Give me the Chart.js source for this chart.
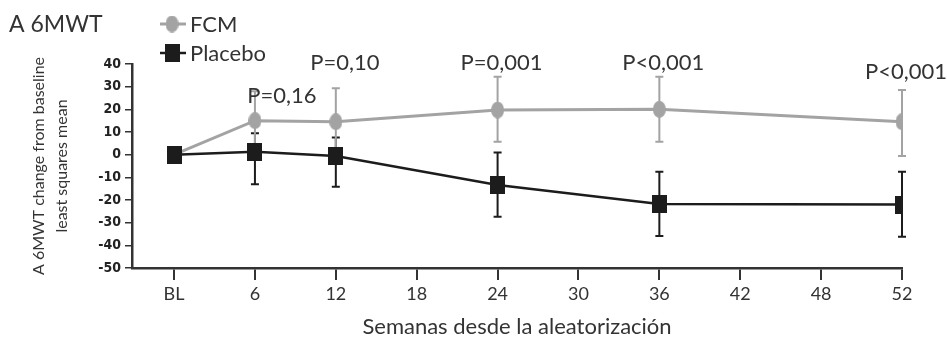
<!DOCTYPE html>
<html>
<head>
<meta charset="utf-8">
<script src="https://cdn.jsdelivr.net/npm/chart.js@4.4.0/dist/chart.umd.min.js"></script>
<style>
  html, body { margin: 0; padding: 0; background: #fff; }
</style>
</head>
<body>
<canvas id="myChart" width="947" height="339"></canvas>
<script>
// x axis categories (weeks) and the weeks where data was measured
const weeks = ['BL', '6', '12', '18', '24', '30', '36', '42', '48', '52'];
const measuredWeeks = ['BL', '6', '12', '24', '36', '52'];

// FCM series: mean and error bar ends
const fcmMean = [0, 15, 14.5, 19.7, 20, 14.5];
const fcmLow = [0, 1, -0.5, 5.7, 5.7, -0.6];
const fcmHigh = [0, 28, 29.3, 34.4, 34.4, 28.5];

// Placebo series
const placeboMean = [0, 1.3, -0.6, -13.4, -21.8, -22];
const placeboLow = [0, -13, -14.1, -27.4, -35.9, -36.2];
const placeboHigh = [0, 9.5, 7.6, 1, -7.5, -7.5];

// p values shown above the weeks
const pValues = ['P=0,16', 'P=0,10', 'P=0,001', 'P<0,001', 'P<0,001'];
const pValueWeeks = ['6', '12', '24', '36', '52'];

const GREY = '#a3a3a3';
const BLACK = '#1c1c1c';
const TXT = '#333';
const FONT = 'Lato, "Open Sans", sans-serif';
const NARROW = '"Liberation Sans Narrow", "DejaVu Sans Condensed", "Arial Narrow", sans-serif';

function makeMarker(w, h, color, shape) {
  const c = document.createElement('canvas');
  c.width = w; c.height = h;
  const g = c.getContext('2d');
  g.fillStyle = color;
  if (shape === 'ellipse') {
    g.beginPath();
    g.ellipse(w / 2, h / 2, w / 2, h / 2, 0, 0, Math.PI * 2);
    g.fill();
  } else {
    g.fillRect(0, 0, w, h);
  }
  return c;
}
const circleMarker = makeMarker(13, 17, GREY, 'ellipse');
const squareMarker = makeMarker(15, 18, BLACK, 'rect');

const toPoints = (vals) => measuredWeeks.map((w, i) => ({x: weeks.indexOf(w), y: vals[i]}));

// error bars under the markers
const errorBars = {
  id: 'errorBars',
  beforeDatasetsDraw(chart) {
    const {ctx, scales: {x, y}} = chart;
    chart.data.datasets.forEach((ds) => {
      ctx.save();
      ctx.strokeStyle = ds.borderColor;
      ctx.lineWidth = 2;
      measuredWeeks.forEach((w, i) => {
        const lo = ds.errLow[i], hi = ds.errHigh[i];
        if (lo === hi) return;
        const px = x.getPixelForValue(weeks.indexOf(w));
        const y1 = y.getPixelForValue(lo), y2 = y.getPixelForValue(hi);
        ctx.beginPath();
        ctx.moveTo(px, y1); ctx.lineTo(px, y2);
        ctx.moveTo(px - 4, y1); ctx.lineTo(px + 4, y1);
        ctx.moveTo(px - 4, y2); ctx.lineTo(px + 4, y2);
        ctx.stroke();
      });
      ctx.restore();
    });
  }
};

// title, legend and p values
const extras = {
  id: 'extras',
  afterDraw(chart, args, opts) {
    const {ctx, scales: {x, y}} = chart;
    ctx.save();
    ctx.fillStyle = TXT;
    ctx.textBaseline = 'alphabetic';
    ctx.textAlign = 'left';
    ctx.font = '23px ' + FONT;
    ctx.fillText('A 6MWT', 9, 32);

    // legend (FCM first)
    const items = [chart.data.datasets[1], chart.data.datasets[0]];
    items.forEach((ds, i) => {
      const cy = 24 + i * 29;
      ctx.strokeStyle = ds.borderColor;
      ctx.lineWidth = ds.borderWidth;
      ctx.beginPath();
      ctx.moveTo(160, cy); ctx.lineTo(186, cy);
      ctx.stroke();
      const m = ds.pointStyle;
      ctx.drawImage(m, 172 - m.width / 2, cy - m.height / 2);
      ctx.font = '22px ' + FONT;
      ctx.fillStyle = TXT;
      ctx.fillText(ds.label, 190, cy + 8);
    });

    // p values
    ctx.font = '22px ' + FONT;
    ctx.textAlign = 'center';
    ctx.textBaseline = 'middle';
    pValues.forEach((t, i) => {
      const a = opts.anchors[i];
      const px = x.getPixelForValue(weeks.indexOf(pValueWeeks[i])) + a.dx;
      ctx.fillText(t, px, y.getPixelForValue(a.y));
    });
    ctx.restore();
  }
};

new Chart(document.getElementById('myChart'), {
  type: 'line',
  data: {
    datasets: [
      {
        label: 'Placebo',
        data: toPoints(placeboMean),
        errLow: placeboLow,
        errHigh: placeboHigh,
        borderColor: BLACK,
        borderWidth: 2.5,
        pointStyle: squareMarker,
        order: 0
      },
      {
        label: 'FCM',
        data: toPoints(fcmMean),
        errLow: fcmLow,
        errHigh: fcmHigh,
        borderColor: GREY,
        borderWidth: 3,
        pointStyle: circleMarker,
        order: 1
      }
    ]
  },
  options: {
    responsive: false,
    animation: false,
    devicePixelRatio: 1,
    layout: { padding: { top: 64, right: 45, left: 0, bottom: 0 } },
    plugins: {
      legend: { display: false },
      tooltip: { enabled: false },
      extras: {
        anchors: [
          { dx: 27, y: 26 },
          { dx: 9, y: 40.6 },
          { dx: 4, y: 40.6 },
          { dx: 4, y: 40.6 },
          { dx: 4, y: 36.7 }
        ]
      }
    },
    scales: {
      x: {
        type: 'linear',
        min: -0.52,
        max: 9,
        afterBuildTicks: (s) => { s.ticks = weeks.map((w, i) => ({value: i})); },
        afterFit: (s) => { s.height = 71; },
        ticks: {
          callback: (v) => weeks[v],
          font: { family: FONT, size: 18 },
          color: TXT,
          padding: 3,
          maxRotation: 0
        },
        grid: { drawOnChartArea: false, tickLength: 12, color: '#333', lineWidth: 2 },
        border: { color: '#333', width: 2.5 },
        title: {
          display: true,
          text: 'Semanas desde la aleatorización',
          font: { family: FONT, size: 22, lineHeight: 1.2 },
          color: TXT,
          padding: { top: 0, bottom: -1 }
        }
      },
      y: {
        min: -50,
        max: 40,
        afterFit: (s) => { s.width = 132; },
        ticks: {
          stepSize: 10,
          font: { family: NARROW, size: 14, weight: 'bold' },
          color: '#222',
          padding: 4
        },
        grid: { drawOnChartArea: false, tickLength: 7, color: '#333', lineWidth: 1.5 },
        border: { color: '#333', width: 2.5 },
        title: {
          display: true,
          text: ['A 6MWT change from baseline', 'least squares mean'],
          font: { family: FONT, size: 16, lineHeight: 1.44 },
          color: TXT,
          padding: { top: 27, bottom: 0 }
        }
      }
    }
  },
  plugins: [errorBars, extras]
});
</script>
</body>
</html>
